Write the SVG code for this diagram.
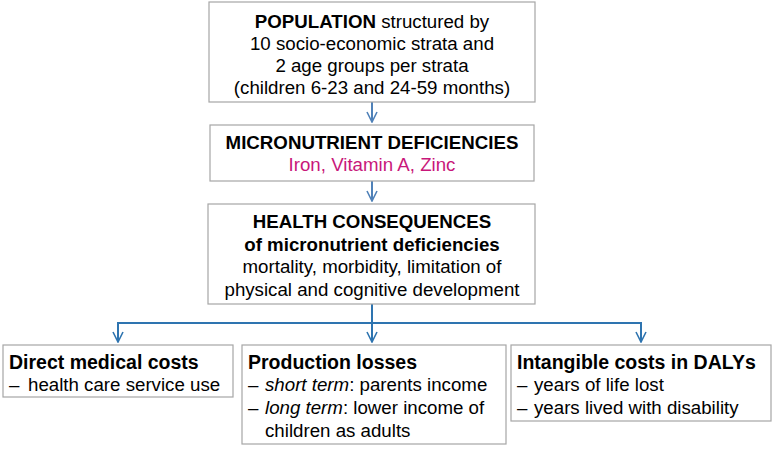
<svg xmlns="http://www.w3.org/2000/svg" width="773" height="450" viewBox="0 0 773 450">
<defs>
<marker id="arrA" viewBox="0 0 12 12" refX="11" refY="6" markerWidth="12" markerHeight="12" markerUnits="userSpaceOnUse" orient="auto">
<polyline points="1,1 11,6 1,11" fill="none" stroke="#4F81B8" stroke-width="1.6"/>
</marker>
<marker id="arrB" viewBox="0 0 12 12" refX="11" refY="6" markerWidth="12" markerHeight="12" markerUnits="userSpaceOnUse" orient="auto">
<polyline points="1,1 11,6 1,11" fill="none" stroke="#2E74B0" stroke-width="1.6"/>
</marker>
</defs>
<style>
.box{fill:#fff;stroke:#a6a6a6;stroke-width:1.2}
text{font-family:"Liberation Sans",Arial,sans-serif;font-size:18.7px;fill:#000}
.c{text-anchor:middle}
.b{font-weight:bold}
.h{font-weight:bold;font-size:19.5px}
.m{fill:#C8177A}
.ca{fill:none;stroke:#4F81B8;stroke-width:2}
.cb{fill:none;stroke:#2E74B0;stroke-width:2}
</style>
<rect width="773" height="450" fill="#fff"/>
<g id="connectors">
<line class="ca" x1="372" y1="102" x2="372" y2="122" marker-end="url(#arrA)"/>
<line class="ca" x1="372" y1="181" x2="372" y2="201" marker-end="url(#arrA)"/>
<line class="cb" x1="372" y1="304" x2="372" y2="342" marker-end="url(#arrB)"/>
<polyline class="cb" points="372,323 118,323 118,342" marker-end="url(#arrB)"/>
<polyline class="cb" points="372,323 641,323 641,342" marker-end="url(#arrB)"/>
</g>
<g id="population">
<rect class="box" x="209" y="2" width="326" height="100"/>
<text class="c" x="372" y="28"><tspan class="b">POPULATION</tspan> structured by</text>
<text class="c" x="372" y="50">10 socio-economic strata and</text>
<text class="c" x="372" y="72">2 age groups per strata</text>
<text class="c" x="372" y="94">(children 6-23 and 24-59 months)</text>
</g>
<g id="deficiencies">
<rect class="box" x="210" y="125" width="324" height="56"/>
<text class="c b" x="372" y="149">MICRONUTRIENT DEFICIENCIES</text>
<text class="c m" x="372" y="171">Iron, Vitamin A, Zinc</text>
</g>
<g id="health">
<rect class="box" x="208" y="204" width="327" height="100"/>
<text class="c b" x="372" y="228">HEALTH CONSEQUENCES</text>
<text class="c b" x="372" y="251">of micronutrient deficiencies</text>
<text class="c" x="372" y="273">mortality, morbidity, limitation of</text>
<text class="c" x="372" y="296">physical and cognitive development</text>
</g>
<g id="direct">
<rect class="box" x="3" y="345" width="230" height="52"/>
<text class="h" x="9" y="369">Direct medical costs</text>
<text x="9" y="391">–</text><text x="28" y="391">health care service use</text>
</g>
<g id="production">
<rect class="box" x="242" y="345" width="264" height="99"/>
<text class="h" x="248" y="369">Production losses</text>
<text x="248" y="391">–</text><text x="265" y="391"><tspan font-style="italic">short term</tspan>: parents income</text>
<text x="248" y="414">–</text><text x="265" y="414"><tspan font-style="italic">long term</tspan>: lower income of</text>
<text x="265" y="437">children as adults</text>
</g>
<g id="intangible">
<rect class="box" x="511" y="345" width="260" height="76"/>
<text class="h" x="517" y="369">Intangible costs in DALYs</text>
<text x="517" y="391">–</text><text x="534" y="391">years of life lost</text>
<text x="517" y="414">–</text><text x="534" y="414">years lived with disability</text>
</g>
</svg>
